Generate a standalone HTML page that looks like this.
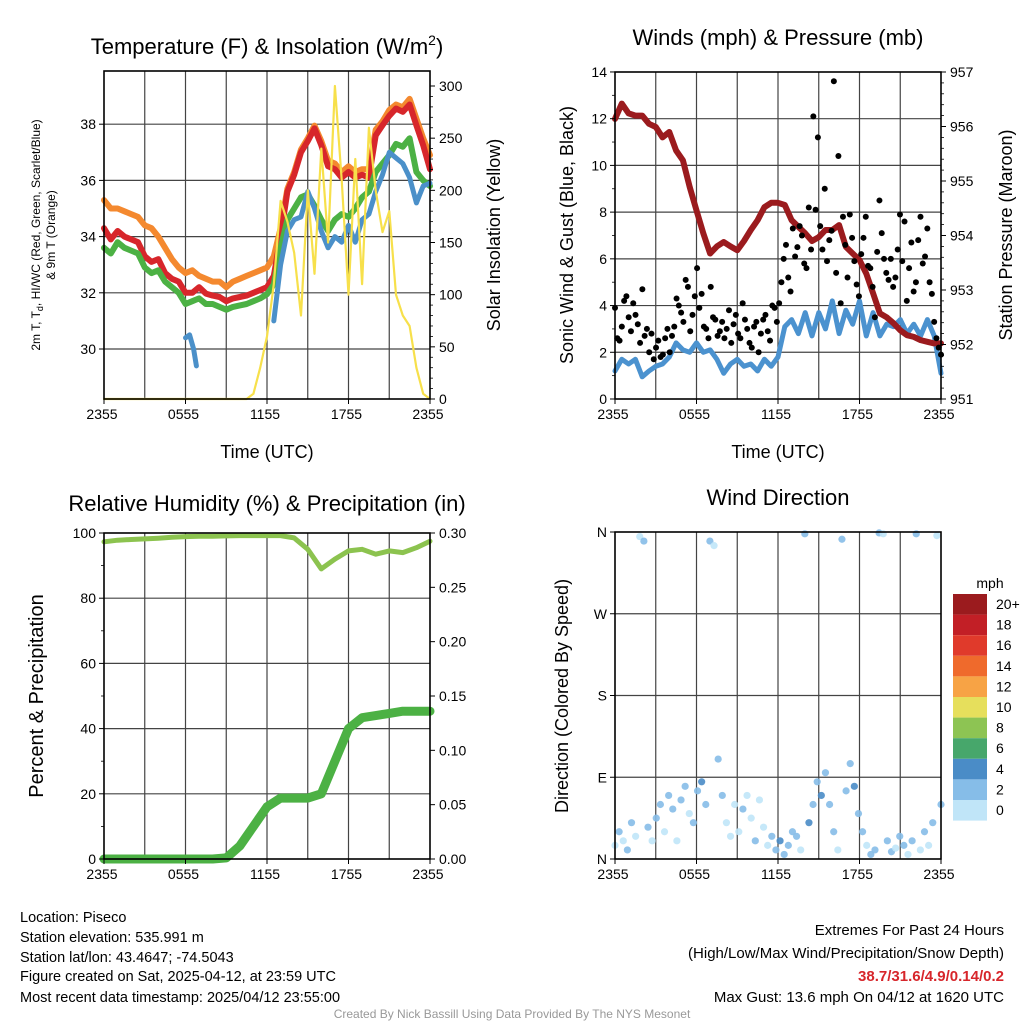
<!DOCTYPE html>
<html><head><meta charset="utf-8"><style>
body{margin:0;background:#fff}
svg{display:block;font-family:"Liberation Sans",sans-serif}
</style></head><body>
<svg id="root" width="1024" height="1024" viewBox="0 0 1024 1024" xmlns="http://www.w3.org/2000/svg">
<g id="grid"></g><g id="marks"></g><g id="frames"></g><g id="texts"></g>
</svg>
<script>
// ---------- data ----------
const xLabels = ["2355","0555","1155","1755","2355"];
const tempRed = [34.3,33.9,34.2,34.0,33.9,33.8,33.3,33.1,33.2,32.7,32.5,32.4,32.0,32.0,32.2,31.97,31.9,31.85,31.7,31.8,31.85,31.9,32.0,32.1,32.2,32.6,34.0,35.6,36.2,37.0,37.4,37.85,37.25,36.5,36.4,36.1,36.3,36.1,36.2,36.1,37.6,37.96,38.3,38.56,38.44,38.7,37.96,37.25,36.4];
const tempOrange = [35.3,35.0,35.0,34.9,34.8,34.7,34.4,34.3,34.0,33.6,33.2,32.9,32.7,32.8,32.6,32.5,32.4,32.4,32.2,32.4,32.5,32.6,32.7,32.8,32.9,33.3,34.3,35.7,36.3,37.1,37.5,37.95,37.4,36.7,36.6,36.3,36.5,36.3,36.4,36.4,37.8,38.1,38.5,38.7,38.6,38.9,38.2,37.5,36.9];
const tempGreen = [33.6,33.4,33.8,33.6,33.5,33.4,32.9,32.7,32.8,32.4,32.2,32.0,31.6,31.7,31.8,31.6,31.6,31.5,31.4,31.5,31.55,31.6,31.7,31.8,31.95,32.3,33.6,34.6,35.0,35.4,35.5,35.1,34.6,34.2,34.6,34.8,34.7,35.0,35.4,35.6,36.3,36.6,36.9,37.3,37.2,37.5,36.3,36.0,35.8];
const dewTimes = [6.0,6.3,6.6,6.8,12.5,13,13.5,14,14.5,15,15.5,16,16.5,17,17.5,18,18.5,19,19.5,20,20.5,21,21.5,22,22.5,23,23.5,24];
const dewBlue = [30.4,30.5,30.0,29.4,31.0,33.0,34.2,34.6,34.7,35.6,35.0,34.2,33.6,34.0,33.8,34.4,33.8,34.6,34.8,35.6,36.2,37.0,36.8,36.6,36.1,35.2,35.8,35.9];
const solar = [0,0,0,0,0,0,0,0,0,0,0,0,0,0,0,0,0,0,0,0,0,0,5,30,60,110,190,170,140,80,200,120,240,150,300,210,100,230,110,260,200,160,180,100,80,70,30,5,0];
const pressure = [956.14,956.42,956.24,956.2,956.2,956.05,955.99,955.8,955.9,955.56,955.38,954.89,954.46,954.04,953.67,953.8,953.88,953.8,953.73,953.9,954.1,954.28,954.52,954.6,954.6,954.56,954.28,954.16,954.04,953.9,953.97,954.1,954.1,954.19,953.79,953.67,953.55,953.3,952.94,952.57,952.5,952.39,952.26,952.17,952.14,952.08,952.05,952.02,952.02];
const windSpd = [1.2,1.7,1.5,1.7,0.95,1.2,1.4,1.5,1.8,2.4,2.1,2.0,2.4,2.0,2.1,1.7,1.1,1.5,1.7,1.4,1.5,1.2,1.7,1.4,1.8,3.1,3.4,2.8,3.7,2.7,3.7,3.0,4.2,2.8,3.8,3.2,4.2,2.7,3.7,2.7,3.2,3.1,3.4,2.8,3.2,2.7,3.4,2.7,1.1];
const gust = [3.9,2.5,4.2,3.5,4.1,3.2,4.7,3.0,2.8,2.2,1.8,2.6,2.0,3.1,4.0,3.3,4.8,3.6,5.6,4.5,3.0,4.8,3.4,2.9,2.6,3.8,3.2,2.8,4.1,3.0,2.2,3.3,2.8,3.6,2.5,3.9,4.1,6.0,5.2,7.3,6.5,7.0,5.6,6.4,8.1,7.4,9.0,6.8,13.6,10.4,7.8,5.2,6.9,4.9,6.2,7.8,5.6,3.5,8.5,6.0,5.1,4.8,6.4,5.9,4.2,6.7,5.0,7.8,6.1,5.0,3.3,2.2];
const gust2 = [2.6,3.1,4.4,2.9,3.6,2.4,2.7,2.0,1.7,2.5,1.9,3.0,2.7,4.3,3.7,5.1,2.9,4.4,3.9,3.1,2.6,3.5,2.7,3.3,3.0,2.4,3.6,2.6,3.4,2.4,3.1,2.0,3.4,2.9,4.0,3.3,5.0,6.6,4.6,6.1,7.4,5.8,8.2,12.1,11.2,6.4,5.9,7.2,5.4,4.1,6.6,7.9,5.9,4.4,6.9,5.7,4.8,6.3,7.1,5.4,6.0,5.2,7.9,7.6,5.6,4.6,6.8,5.8,7.3,4.5,2.6,1.9];
const rh = [97.3,97.8,98.0,98.2,98.4,98.7,98.9,99.0,99.0,99.1,99.2,99.2,99.2,99.2,98.5,95.0,89.0,92.0,94.5,95.0,93.5,94.5,94.0,95.5,97.5];
const precip = [0,0,0,0,0,0,0,0,0,0.001,0.012,0.03,0.048,0.056,0.056,0.056,0.06,0.09,0.12,0.13,0.132,0.134,0.136,0.136,0.136];
const dirDeg = [15,30,20,10,40,25,355,350,35,20,45,60,30,70,55,20,65,80,50,40,75,85,60,350,345,110,70,40,25,60,30,55,70,45,20,65,35,15,25,10,20,5,15,30,25,10,358,40,60,85,70,95,60,30,10,352,75,105,80,50,30,15,5,10,359,358,20,8,12,25,15,5,20,358,10,30,15,40,356,60];
const dirSpd = [1.5,2.5,1.0,3.0,2.2,0.8,1.5,2.0,3.2,1.2,2.5,3.5,1.8,2.8,3.1,0.9,2.6,3.3,1.4,2.1,3.4,4.2,2.0,3.0,1.6,3.6,2.4,0.8,1.1,1.9,0.7,2.3,1.5,1.0,2.9,1.2,0.6,1.8,2.7,3.1,4.1,3.5,2.6,3.8,2.2,1.4,3.0,4.4,3.6,2.8,4.5,3.2,2.4,3.9,1.6,2.0,3.3,2.9,4.0,2.2,3.1,1.5,2.7,3.8,2.5,1.2,3.4,2.1,1.7,3.6,2.4,1.3,2.9,3.5,1.8,2.6,0.9,3.1,1.4,2.2];
const cbLabels = ["20+","18","16","14","12","10","8","6","4","2","0"];
const cbColors = ["#9b1b1e","#c21f26","#e03a2b","#ef6a2c","#f7a345","#e6df5c","#8dc453","#47a76b","#4a8cc7","#86bde8","#c0e5f8"];

// ---------- helpers ----------
const NS="http://www.w3.org/2000/svg";
function mk(tag, parent, attrs){const e=document.createElementNS(NS,tag);for(const k in attrs)e.setAttribute(k,attrs[k]);document.getElementById(parent).appendChild(e);return e;}
function txt(s,x,y,size,anchor,extra){const e=mk('text','texts',Object.assign({x:x,y:y,'font-size':size,'text-anchor':anchor||'middle',fill:'#000'},extra||{}));e.textContent=s;return e;}
function xs(P,t){return P.x0+(P.x1-P.x0)*t/24;}
function pathFrom(P,vals,ys,times){let d="";vals.forEach((v,i)=>{const t=times?times[i]:i*24/(vals.length-1);d+=(i?"L":"M")+xs(P,t).toFixed(1)+","+ys(v).toFixed(1);});return d;}

const P1={x0:104,x1:430,y0:71,y1:399};
const P2={x0:615,x1:941,y0:72,y1:399};
const P3={x0:104,x1:430,y0:533,y1:859};
const P4={x0:615,x1:941,y0:532,y1:859};
const yT=v=>349-(v-30)*28.1, yS=v=>399-v*1.0433;
const yW=v=>399-v*23.36, yP=v=>399-(v-951)*54.5;
const yR=v=>859-v*3.26, yPr=v=>859-v*1086.7;
const yD=v=>859-v*(327/360);

function frame(P,name,hLines){
  for(let k=1;k<8;k++){const x=P.x0+(P.x1-P.x0)*k/8;const l=mk('line','grid',{x1:x,x2:x,y1:P.y0,y2:P.y1,stroke:'#444','stroke-width':1.2});
    
    }
  hLines.forEach(y=>{const l=mk('line','grid',{x1:P.x0,x2:P.x1,y1:y,y2:y,stroke:'#444','stroke-width':1.2});
    
    });
  const r=mk('rect','frames',{x:P.x0,y:P.y0,width:P.x1-P.x0,height:P.y1-P.y0,fill:'none',stroke:'#000','stroke-width':1.6});
  
  
  xLabels.forEach((s,i)=>{const x=P.x0+(P.x1-P.x0)*i/4;
    mk('line','frames',{x1:x,x2:x,y1:P.y1,y2:P.y1+5,stroke:'#000'});
    const t=txt(s,x-2,P.y1+20,14);
    
    });
}
function yTicks(P,vals,f,labels,side,name){vals.forEach((v,i)=>{const y=f(v);
  const x=side==='l'?P.x0:P.x1;
  mk('line','frames',{x1:x,x2:side==='l'?x-5:x+5,y1:y,y2:y,stroke:'#000'});
  const t=txt(labels[i],side==='l'?x-8:x+9,y+5,14,side==='l'?'end':'start');
  
  });}
function minor(P,vals,f,side){vals.forEach(v=>{const y=f(v);const x=side==='l'?P.x0:P.x1;mk('line','frames',{x1:x,x2:side==='l'?x-3:x+3,y1:y,y2:y,stroke:'#000','stroke-width':0.8});});}
function line(d,color,w,name){const p=mk('path','marks',{d:d,fill:'none',stroke:color,'stroke-width':w,'stroke-linejoin':'round','stroke-linecap':'round'});
  
  return p;}

// ---------- panel 1 ----------
frame(P1,'temp-panel',[30,32,34,36,38].map(yT));
yTicks(P1,[30,32,34,36,38],yT,["30","32","34","36","38"],'l','temp-axis');
yTicks(P1,[0,50,100,150,200,250,300],yS,["0","50","100","150","200","250","300"],'r','solar-axis');
minor(P1,[10,20,30,40,60,70,80,90,110,120,130,140,160,170,180,190,210,220,230,240,260,270,280,290],yS,'r');
line(pathFrom(P1,tempOrange,yT),'#f4892f',6,'temp-9m-orange-line');
line(pathFrom(P1,tempRed,yT),'#d7262b',6,'temp-2m-red-line');
line(pathFrom(P1,tempGreen,yT),'#4cb144',6,'dewpoint-green-line');
line(pathFrom(P1,dewBlue.slice(0,4),yT,dewTimes.slice(0,4)),'#4b90c9',5,'hiwc-blue-line-early');
line(pathFrom(P1,dewBlue.slice(4),yT,dewTimes.slice(4)),'#4b90c9',5,'hiwc-blue-line');
line(pathFrom(P1,solar,yS),'#f7e04b',2.2,'solar-insolation-line');

// ---------- panel 2 ----------
frame(P2,'wind-panel',[2,4,6,8,10,12].map(yW));
yTicks(P2,[0,2,4,6,8,10,12,14],yW,["0","2","4","6","8","10","12","14"],'l','wind-axis');
yTicks(P2,[951,952,953,954,955,956,957],yP,["951","952","953","954","955","956","957"],'r','pressure-axis');
minor(P2,[1,3,5,7,9,11,13],yW,'l');
minor(P2,[951.2,951.4,951.6,951.8,952.2,952.4,952.6,952.8,953.2,953.4,953.6,953.8,954.2,954.4,954.6,954.8,955.2,955.4,955.6,955.8,956.2,956.4,956.6,956.8],yP,'r');
line(pathFrom(P2,windSpd,yW),'#4b92cf',5,'wind-speed-line');
line(pathFrom(P2,pressure,yP),'#9b1b1e',6,'pressure-line');
[gust,gust2].forEach((arr,k)=>arr.forEach((v,i)=>{const t=(i+k*0.5)*24/(arr.length-0.5);
  const c=mk('circle','marks',{cx:xs(P2,t),cy:yW(v),r:3,fill:'#000'});
  
  }));

// ---------- panel 3 ----------
frame(P3,'rh-panel',[20,40,60,80].map(yR));
yTicks(P3,[0,20,40,60,80,100],yR,["0","20","40","60","80","100"],'l','rh-axis');
yTicks(P3,[0,0.05,0.1,0.15,0.2,0.25,0.3],yPr,["0.00","0.05","0.10","0.15","0.20","0.25","0.30"],'r','precip-axis');
minor(P3,[10,30,50,70,90],yR,'l');
line(pathFrom(P3,precip,yPr),'#4cb144',9,'precipitation-line');
line(pathFrom(P3,rh,yR),'#8cc34f',5,'relative-humidity-line');

// ---------- panel 4 ----------
frame(P4,'direction-panel',[90,180,270].map(yD));
yTicks(P4,[0,90,180,270,360],yD,["N","E","S","W","N"],'l','direction-axis');
function spdColor(s){const idx=Math.min(10,Math.floor(s/2));return cbColors[10-idx];}
dirDeg.forEach((d,i)=>{const t=i*24/(dirDeg.length-1);
  const c=mk('circle','marks',{cx:xs(P4,t),cy:yD(d),r:3.6,fill:spdColor(dirSpd[i]),'fill-opacity':0.9});
  
  });
cbLabels.forEach((s,i)=>{const y=594+i*20.6;
  const r=mk('rect','marks',{x:953,y:y,width:34,height:20.6,fill:cbColors[i]});
  
  
  const t=txt(s,996,y+15,14,'start');
  
  });
</script>
<svg width="0" height="0"></svg>
<div style="position:absolute;left:0;top:0;width:1024px;height:1024px;pointer-events:none;font-family:'Liberation Sans',sans-serif">
<svg width="1024" height="1024" style="position:absolute;left:0;top:0">
<g font-family="Liberation Sans, sans-serif" fill="#000">
<text x="267" y="54" font-size="22" text-anchor="middle">Temperature (F) &amp; Insolation (W/m<tspan font-size="14" dy="-9">2</tspan><tspan dy="9">)</tspan></text>
<text x="267" y="458" font-size="18" text-anchor="middle">Time (UTC)</text>
<text transform="translate(40,235) rotate(-90)" font-size="12" text-anchor="middle">2m T, T<tspan font-size="9" dy="3">d</tspan><tspan dy="-3">, HI/WC (Red, Green, Scarlet/Blue)</tspan></text>
<text transform="translate(55,235) rotate(-90)" font-size="12" text-anchor="middle">&amp; 9m T (Orange)</text>
<text transform="translate(500,235) rotate(-90)" font-size="18" text-anchor="middle">Solar Insolation (Yellow)</text>
<text x="778" y="45" font-size="22" text-anchor="middle">Winds (mph) &amp; Pressure (mb)</text>
<text x="778" y="458" font-size="18" text-anchor="middle">Time (UTC)</text>
<text transform="translate(573,235) rotate(-90)" font-size="18" text-anchor="middle">Sonic Wind &amp; Gust (Blue, Black)</text>
<text transform="translate(1012,235) rotate(-90)" font-size="18" text-anchor="middle">Station Pressure (Maroon)</text>
<text x="267" y="511" font-size="22" text-anchor="middle">Relative Humidity (%) &amp; Precipitation (in)</text>
<text transform="translate(43,696) rotate(-90)" font-size="20" text-anchor="middle">Percent &amp; Precipitation</text>
<text x="778" y="505" font-size="22" text-anchor="middle">Wind Direction</text>
<text transform="translate(568,696) rotate(-90)" font-size="18" text-anchor="middle">Direction (Colored By Speed)</text>
<text x="990" y="588" font-size="14" text-anchor="middle">mph</text>
<g font-size="14.5">
<text x="20" y="922">Location: Piseco</text>
<text x="20" y="942">Station elevation: 535.991 m</text>
<text x="20" y="962">Station lat/lon: 43.4647; -74.5043</text>
<text x="20" y="981">Figure created on Sat, 2025-04-12, at 23:59 UTC</text>
<text x="20" y="1002">Most recent data timestamp: 2025/04/12 23:55:00</text>
</g>
<g font-size="15" text-anchor="end">
<text x="1004" y="935">Extremes For Past 24 Hours</text>
<text x="1004" y="958">(High/Low/Max Wind/Precipitation/Snow Depth)</text>
<text x="1004" y="981" fill="#d7262b" font-weight="bold">38.7/31.6/4.9/0.14/0.2</text>
<text x="1004" y="1002">Max Gust: 13.6 mph On 04/12 at 1620 UTC</text>
</g>
<text x="512" y="1018" font-size="12" fill="#999" text-anchor="middle">Created By Nick Bassill Using Data Provided By The NYS Mesonet</text>
</g></svg></div>
</body></html>
